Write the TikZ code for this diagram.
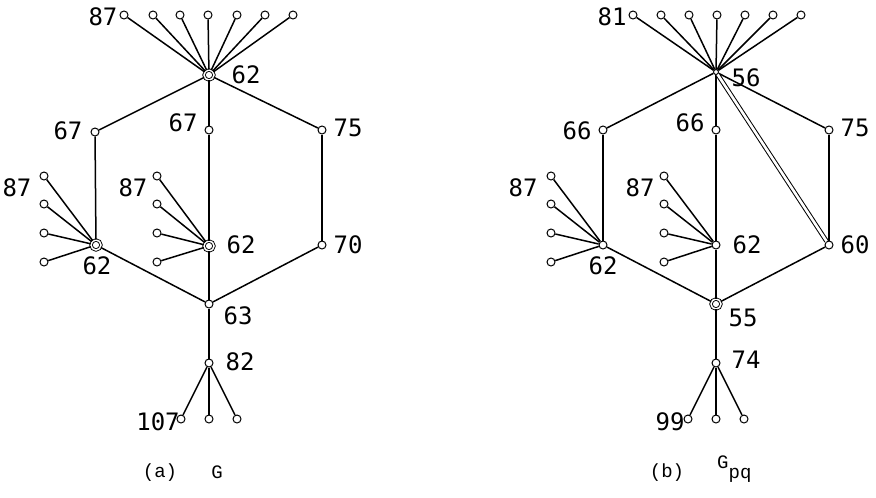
\documentclass[tikz,border=0pt]{standalone}
\usepackage{fontspec}
\newfontfamily\numfont{DejaVu Sans Mono}
\newfontfamily\capfont{Liberation Mono}
\begin{document}
\begin{tikzpicture}[x=1pt,y=-1pt,
  v/.style={circle,draw,fill=white,inner sep=0pt,minimum size=8pt,line width=1pt},
  vv/.style={circle,draw,fill=white,inner sep=0pt,minimum size=10pt,line width=0.9pt,double,double distance=1.5pt},
  hv/.style={circle,draw,fill=white,inner sep=0pt,minimum size=5pt,line width=1pt},
  e/.style={line width=1.5pt},
  ee/.style={line width=1pt,double,double distance=2.6pt},
  lbl/.style={inner sep=0pt,font=\numfont\fontsize{24}{24}\selectfont},
  captxt/.style={inner sep=0pt,font=\capfont\fontsize{19}{19}\selectfont}]
\useasboundingbox (0,0) rectangle (876,498);
% ---------------- graph (a) ----------------
\node[vv] (aH) at (209,75) {};
\foreach \i/\x in {1/124,2/153,3/180,4/208,5/237,6/265,7/293}
  \node[v] (aT\i) at (\x,15) {};
\node[v] (aL) at (95,132) {};
\node[v] (aM) at (209,130) {};
\node[v] (aR) at (322,130) {};
\node[vv] (aLH) at (96,245) {};
\node[vv] (aMH) at (209,246) {};
\node[v] (aRB) at (322,245) {};
\node[v] (aB) at (209,304) {};
\node[v] (aS) at (209,363) {};
\foreach \i/\x in {1/181,2/209,3/237}
  \node[v] (aF\i) at (\x,419) {};
\foreach \i/\y in {1/176,2/204,3/233,4/262} {
  \node[v] (aA\i) at (44,\y) {};
  \node[v] (aC\i) at (157,\y) {};
}
\foreach \i in {1,...,7} \draw[e] (aH) -- (aT\i);
\foreach \i in {1,...,4} {\draw[e] (aLH) -- (aA\i); \draw[e] (aMH) -- (aC\i);}
\foreach \i in {1,2,3} \draw[e] (aS) -- (aF\i);
\draw[e] (aH) -- (aL); \draw[e] (aH) -- (aM); \draw[e] (aH) -- (aR);
\draw[e] (aL) -- (aLH); \draw[e] (aM) -- (aMH); \draw[e] (aR) -- (aRB);
\draw[e] (aLH) -- (aB); \draw[e] (aMH) -- (aB); \draw[e] (aRB) -- (aB);
\draw[e] (aB) -- (aS);
\node[lbl] (la1) at (103,17) {87};
\node[lbl] (la2) at (246,75) {62};
\node[lbl] (la3) at (68,131) {67};
\node[lbl] (la4) at (183,123) {67};
\node[lbl] (la5) at (348,128) {75};
\node[lbl] (la6) at (17,188) {87};
\node[lbl] (la7) at (133,188) {87};
\node[lbl] (la8) at (97,266) {62};
\node[lbl] (la9) at (241,245) {62};
\node[lbl] (la10) at (348,245) {70};
\node[lbl] (la11) at (238,316) {63};
\node[lbl] (la12) at (240,362) {82};
\node[lbl] (la13) at (158,422) {107};
\node[captxt] (ca1) at (160,473) {(a)};
\node[captxt] (ca2) at (217,472) {G};
% ---------------- graph (b) ----------------
\node[hv] (bH) at (716,72) {};
\foreach \i/\x in {1/633,2/661,3/689,4/717,5/745,6/773,7/801}
  \node[v] (bT\i) at (\x,15) {};
\node[v] (bL) at (603,130) {};
\node[v] (bM) at (716,130) {};
\node[v] (bR) at (829,130) {};
\node[v] (bLH) at (603,245) {};
\node[v] (bMH) at (716,245) {};
\node[v] (bRB) at (829,245) {};
\node[vv] (bB) at (716,304) {};
\node[v] (bS) at (716,363) {};
\foreach \i/\x in {1/688,2/716,3/744}
  \node[v] (bF\i) at (\x,419) {};
\foreach \i/\y in {1/176,2/204,3/233,4/262} {
  \node[v] (bA\i) at (551,\y) {};
  \node[v] (bC\i) at (664,\y) {};
}
\foreach \i in {1,...,7} \draw[e] (bH) -- (bT\i);
\foreach \i in {1,...,4} {\draw[e] (bLH) -- (bA\i); \draw[e] (bMH) -- (bC\i);}
\foreach \i in {1,2,3} \draw[e] (bS) -- (bF\i);
\draw[e] (bH) -- (bL); \draw[e] (bH) -- (bM); \draw[e] (bH) -- (bR);
\draw[ee] (bH) -- (bRB);
\draw[e] (bL) -- (bLH); \draw[e] (bM) -- (bMH); \draw[e] (bR) -- (bRB);
\draw[e] (bLH) -- (bB); \draw[e] (bMH) -- (bB); \draw[e] (bRB) -- (bB);
\draw[e] (bB) -- (bS);
\node[lbl] (lb1) at (612,17) {81};
\node[lbl] (lb2) at (746,78) {56};
\node[lbl] (lb3) at (577,131) {66};
\node[lbl] (lb4) at (690,123) {66};
\node[lbl] (lb5) at (855,128) {75};
\node[lbl] (lb6) at (523,188) {87};
\node[lbl] (lb7) at (640,188) {87};
\node[lbl] (lb8) at (603,266) {62};
\node[lbl] (lb9) at (747,245) {62};
\node[lbl] (lb10) at (855,245) {60};
\node[lbl] (lb11) at (743,318) {55};
\node[lbl] (lb12) at (746,360) {74};
\node[lbl] (lb13) at (670,422) {99};
\node[captxt] (cb1) at (667,473) {(b)};
\node[captxt,anchor=west] (cb2) at (717,469) {G\raisebox{-1.0ex}{pq}};
\end{tikzpicture}
\end{document}
